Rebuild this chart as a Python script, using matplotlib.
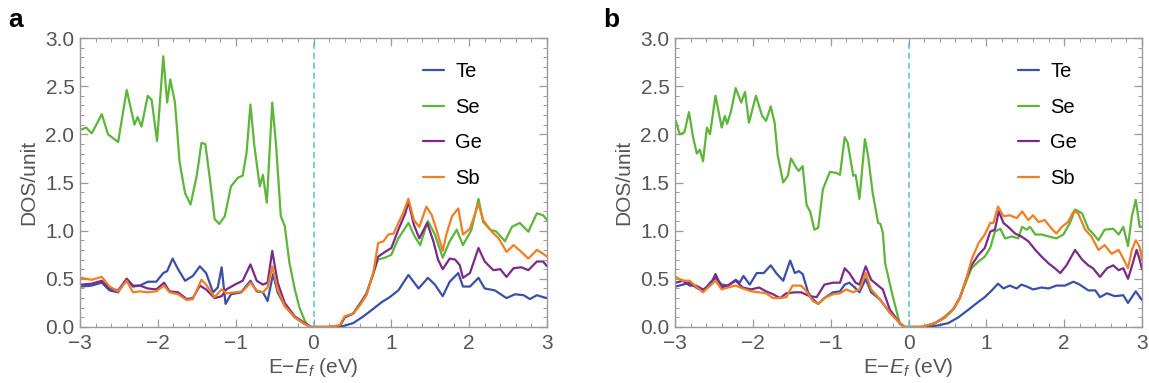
import matplotlib
matplotlib.use("Agg")
import matplotlib.pyplot as plt
from matplotlib.ticker import MultipleLocator

plt.rcParams["font.family"] = ["Liberation Sans", "DejaVu Sans"]
plt.rcParams["mathtext.fontset"] = "custom"
plt.rcParams["mathtext.rm"] = "Liberation Sans"
plt.rcParams["mathtext.it"] = "Liberation Sans:italic"

elements = ["Te", "Se", "Ge", "Sb"]
colors = ["#3b4ea8", "#5db53a", "#7a2a88", "#f07f22"]

# ---------------- panel a ----------------
te_a_x = [-2.98, -2.85, -2.72, -2.62, -2.51, -2.40, -2.32, -2.23, -2.13, -2.02, -1.93, -1.88,
          -1.81, -1.74, -1.65, -1.55, -1.46, -1.38, -1.29, -1.23, -1.18, -1.13, -1.06, -0.93,
          -0.81, -0.73, -0.65, -0.59, -0.52, -0.46, -0.37, -0.24, -0.11, -0.03, 0.2,
          0.38, 0.51, 0.64, 0.77, 0.88, 0.98, 1.09, 1.22, 1.35, 1.47, 1.56, 1.66, 1.75, 1.86,
          1.92, 2.01, 2.12, 2.20, 2.33, 2.48, 2.59, 2.70, 2.78, 2.87, 2.95, 3.00]
te_a_y = [0.42, 0.43, 0.46, 0.38, 0.36, 0.50, 0.43, 0.43, 0.47, 0.47, 0.56, 0.58,
          0.71, 0.60, 0.48, 0.53, 0.63, 0.56, 0.36, 0.41, 0.62, 0.24, 0.34, 0.36,
          0.48, 0.37, 0.36, 0.27, 0.55, 0.36, 0.22, 0.10, 0.03, 0.0, 0.0,
          0.01, 0.04, 0.11, 0.19, 0.26, 0.31, 0.38, 0.54, 0.40, 0.51, 0.44, 0.32, 0.47, 0.56,
          0.42, 0.42, 0.51, 0.40, 0.38, 0.30, 0.34, 0.33, 0.29, 0.33, 0.31, 0.30]

se_a_x = [-2.98, -2.92, -2.85, -2.79, -2.72, -2.64, -2.51, -2.40, -2.30, -2.26, -2.21, -2.13,
          -2.08, -2.01, -1.93, -1.88, -1.84, -1.78, -1.72, -1.65, -1.58, -1.50, -1.44, -1.39,
          -1.33, -1.27, -1.21, -1.14, -1.06, -0.97, -0.91, -0.86, -0.81, -0.76, -0.69, -0.65,
          -0.60, -0.53, -0.48, -0.42, -0.37, -0.31, -0.24, -0.18, -0.11, -0.05, 0.2,
          0.34, 0.40, 0.51, 0.60, 0.68, 0.77, 0.83, 0.92, 1.00, 1.09, 1.22, 1.30, 1.37, 1.47,
          1.56, 1.66, 1.75, 1.84, 1.92, 2.03, 2.12, 2.18, 2.27, 2.35, 2.46, 2.55, 2.65, 2.76,
          2.87, 2.95, 3.00]
se_a_y = [2.05, 2.07, 2.01, 2.10, 2.21, 2.00, 1.92, 2.46, 2.10, 2.18, 2.08, 2.40,
          2.36, 1.93, 2.81, 2.33, 2.57, 2.33, 1.71, 1.39, 1.27, 1.57, 1.91, 1.90,
          1.53, 1.12, 1.07, 1.15, 1.46, 1.55, 1.57, 1.81, 2.31, 1.88, 1.46, 1.58,
          1.29, 2.33, 1.88, 1.15, 1.05, 0.67, 0.39, 0.20, 0.06, 0.0, 0.0,
          0.01, 0.10, 0.14, 0.25, 0.35, 0.56, 0.70, 0.72, 0.75, 0.92, 1.08, 0.94, 0.85, 1.10,
          0.96, 0.72, 0.89, 1.01, 0.85, 1.01, 1.33, 1.09, 1.01, 0.99, 0.89, 1.04, 1.08, 0.99,
          1.18, 1.16, 1.11]

ge_a_x = [-2.98, -2.85, -2.72, -2.62, -2.51, -2.40, -2.32, -2.23, -2.13, -2.02, -1.92, -1.85,
          -1.74, -1.63, -1.55, -1.46, -1.38, -1.27, -1.18, -1.12, -1.01, -0.91, -0.81, -0.73,
          -0.65, -0.59, -0.53, -0.46, -0.37, -0.24, -0.11, -0.03, 0.2,
          0.34, 0.40, 0.51, 0.60, 0.68, 0.77, 0.83, 0.92, 1.00, 1.09, 1.18, 1.22, 1.29, 1.36,
          1.46, 1.54, 1.60, 1.66, 1.75, 1.82, 1.88, 1.92, 2.01, 2.12, 2.20, 2.31, 2.40, 2.48,
          2.57, 2.67, 2.76, 2.87, 2.95, 3.00]
ge_a_y = [0.44, 0.45, 0.48, 0.40, 0.38, 0.50, 0.42, 0.43, 0.40, 0.39, 0.46, 0.37,
          0.36, 0.29, 0.30, 0.43, 0.39, 0.30, 0.32, 0.39, 0.44, 0.48, 0.65, 0.48,
          0.44, 0.46, 0.79, 0.46, 0.25, 0.11, 0.04, 0.0, 0.0,
          0.01, 0.10, 0.14, 0.24, 0.34, 0.56, 0.73, 0.78, 0.82, 1.01, 1.18, 1.30, 1.06, 0.92,
          1.08, 0.89, 0.70, 0.60, 0.71, 0.70, 0.64, 0.51, 0.56, 0.82, 0.68, 0.59, 0.60, 0.52,
          0.61, 0.62, 0.59, 0.68, 0.68, 0.63]

sb_a_x = [-2.98, -2.85, -2.72, -2.62, -2.51, -2.40, -2.32, -2.23, -2.13, -2.02, -1.92, -1.85,
          -1.74, -1.63, -1.55, -1.44, -1.38, -1.27, -1.18, -1.12, -1.01, -0.91, -0.81, -0.73,
          -0.65, -0.59, -0.53, -0.46, -0.37, -0.24, -0.11, -0.03, 0.2,
          0.34, 0.40, 0.51, 0.60, 0.68, 0.77, 0.83, 0.90, 0.96, 1.03, 1.09, 1.15, 1.22, 1.29,
          1.36, 1.45, 1.52, 1.58, 1.66, 1.71, 1.78, 1.86, 1.92, 2.01, 2.12, 2.18, 2.29, 2.38,
          2.48, 2.57, 2.67, 2.76, 2.87, 2.95, 3.00]
sb_a_y = [0.51, 0.49, 0.52, 0.42, 0.37, 0.48, 0.36, 0.37, 0.36, 0.37, 0.43, 0.36,
          0.34, 0.28, 0.29, 0.49, 0.44, 0.31, 0.39, 0.35, 0.36, 0.37, 0.46, 0.38,
          0.36, 0.41, 0.63, 0.39, 0.22, 0.10, 0.03, 0.0, 0.0,
          0.02, 0.11, 0.14, 0.23, 0.33, 0.57, 0.87, 0.89, 0.96, 0.97, 1.08, 1.18, 1.33, 1.11,
          1.04, 1.25, 1.16, 1.01, 0.79, 0.97, 1.15, 1.23, 0.96, 1.02, 1.28, 1.11, 0.99, 0.92,
          0.78, 0.85, 0.78, 0.71, 0.80, 0.76, 0.73]

# ---------------- panel b ----------------
te_b_x = [-2.99, -2.90, -2.81, -2.73, -2.64, -2.55, -2.48, -2.40, -2.32, -2.22, -2.17, -2.12,
          -2.04, -1.95, -1.86, -1.77, -1.70, -1.61, -1.52, -1.46, -1.41, -1.36, -1.29, -1.23,
          -1.16, -1.08, -0.97, -0.88, -0.82, -0.76, -0.69, -0.63, -0.55, -0.48, -0.37, -0.24,
          -0.11, -0.05, 0.2,
          0.34, 0.51, 0.64, 0.77, 0.88, 0.98, 1.07, 1.15, 1.22, 1.30, 1.39, 1.45, 1.52, 1.60,
          1.71, 1.80, 1.90, 2.01, 2.12, 2.20, 2.31, 2.40, 2.46, 2.55, 2.65, 2.76, 2.82, 2.87,
          2.92, 3.00]
te_b_y = [0.42, 0.44, 0.46, 0.41, 0.37, 0.46, 0.51, 0.44, 0.43, 0.49, 0.46, 0.53,
          0.44, 0.56, 0.56, 0.64, 0.56, 0.48, 0.69, 0.56, 0.58, 0.55, 0.36, 0.29,
          0.24, 0.30, 0.36, 0.37, 0.44, 0.46, 0.41, 0.36, 0.50, 0.36, 0.29, 0.15,
          0.04, 0.0, 0.0,
          0.01, 0.04, 0.10, 0.18, 0.25, 0.31, 0.38, 0.45, 0.40, 0.43, 0.40, 0.44, 0.42, 0.39,
          0.41, 0.40, 0.43, 0.43, 0.47, 0.44, 0.38, 0.38, 0.31, 0.35, 0.32, 0.33, 0.25, 0.31,
          0.37, 0.28]

se_b_x = [-2.99, -2.94, -2.88, -2.82, -2.77, -2.72, -2.68, -2.64, -2.59, -2.55, -2.48, -2.40,
          -2.36, -2.33, -2.28, -2.22, -2.15, -2.10, -2.05, -1.96, -1.88, -1.83, -1.77, -1.72,
          -1.68, -1.61, -1.55, -1.51, -1.44, -1.41, -1.36, -1.31, -1.26, -1.21, -1.16, -1.10,
          -1.01, -0.93, -0.88, -0.82, -0.78, -0.71, -0.68, -0.63, -0.56, -0.52, -0.46, -0.39,
          -0.36, -0.33, -0.30, -0.20, -0.11, -0.05, 0.15,
          0.21, 0.34, 0.47, 0.58, 0.66, 0.75, 0.81, 0.90, 0.98, 1.05, 1.11, 1.18, 1.24, 1.33,
          1.41, 1.46, 1.52, 1.56, 1.63, 1.71, 1.80, 1.90, 1.99, 2.08, 2.14, 2.23, 2.31, 2.37,
          2.44, 2.52, 2.63, 2.70, 2.76, 2.82, 2.87, 2.92, 2.97, 3.00]
se_b_y = [2.14, 2.00, 2.02, 2.23, 1.98, 1.80, 1.84, 1.72, 2.07, 2.00, 2.40, 2.07,
          2.19, 2.11, 2.24, 2.48, 2.33, 2.44, 2.12, 2.40, 2.19, 2.14, 2.29, 2.12,
          1.78, 1.50, 1.57, 1.75, 1.65, 1.62, 1.67, 1.27, 1.19, 1.01, 1.03, 1.43,
          1.61, 1.60, 1.58, 1.97, 1.91, 1.57, 1.58, 1.33, 1.95, 1.78, 1.39, 1.08,
          1.07, 0.98, 0.66, 0.31, 0.03, 0.0, 0.0,
          0.01, 0.04, 0.11, 0.19, 0.31, 0.49, 0.61, 0.68, 0.73, 0.82, 0.99, 1.02, 0.92, 0.94,
          0.92, 1.04, 1.01, 1.04, 0.96, 0.96, 0.94, 0.92, 0.96, 1.09, 1.22, 1.18, 1.02, 0.97,
          0.90, 1.01, 1.02, 0.96, 1.04, 0.84, 1.15, 1.32, 1.04, 1.04]

ge_b_x = [-2.99, -2.90, -2.81, -2.73, -2.64, -2.55, -2.48, -2.40, -2.32, -2.22, -2.13, -2.02,
          -1.92, -1.83, -1.74, -1.65, -1.57, -1.46, -1.38, -1.27, -1.18, -1.08, -0.97, -0.88,
          -0.82, -0.76, -0.68, -0.63, -0.55, -0.48, -0.39, -0.33, -0.24, -0.11, -0.05, 0.2,
          0.34, 0.47, 0.58, 0.66, 0.75, 0.81, 0.90, 0.98, 1.05, 1.11, 1.16, 1.22, 1.28, 1.37,
          1.45, 1.54, 1.63, 1.71, 1.80, 1.88, 1.95, 2.03, 2.14, 2.23, 2.31, 2.37, 2.46, 2.55,
          2.63, 2.70, 2.76, 2.82, 2.87, 2.93, 2.97, 3.00]
ge_b_y = [0.46, 0.48, 0.43, 0.43, 0.39, 0.43, 0.55, 0.41, 0.43, 0.48, 0.41, 0.39,
          0.41, 0.37, 0.34, 0.30, 0.35, 0.36, 0.36, 0.32, 0.31, 0.44, 0.46, 0.46,
          0.61, 0.56, 0.46, 0.44, 0.63, 0.49, 0.43, 0.39, 0.18, 0.04, 0.0, 0.0,
          0.04, 0.10, 0.19, 0.30, 0.52, 0.64, 0.75, 0.82, 0.99, 1.01, 1.20, 1.08, 1.04, 0.97,
          0.94, 0.89, 0.80, 0.73, 0.66, 0.61, 0.56, 0.64, 0.80, 0.70, 0.64, 0.61, 0.52, 0.61,
          0.64, 0.59, 0.61, 0.50, 0.63, 0.80, 0.70, 0.60]

sb_b_x = [-2.99, -2.90, -2.81, -2.73, -2.64, -2.55, -2.48, -2.40, -2.32, -2.22, -2.13, -2.02,
          -1.92, -1.83, -1.74, -1.65, -1.57, -1.49, -1.38, -1.31, -1.23, -1.16, -1.08, -0.97,
          -0.88, -0.80, -0.71, -0.63, -0.55, -0.48, -0.37, -0.24, -0.11, -0.05, 0.15,
          0.21, 0.34, 0.47, 0.58, 0.66, 0.75, 0.81, 0.90, 0.98, 1.05, 1.09, 1.15, 1.22, 1.30,
          1.39, 1.46, 1.54, 1.60, 1.67, 1.75, 1.84, 1.90, 1.97, 2.05, 2.12, 2.18, 2.27, 2.35,
          2.44, 2.52, 2.61, 2.70, 2.76, 2.82, 2.87, 2.92, 2.97, 3.00]
sb_b_y = [0.52, 0.48, 0.48, 0.42, 0.36, 0.43, 0.48, 0.39, 0.41, 0.43, 0.40, 0.37,
          0.36, 0.35, 0.30, 0.30, 0.31, 0.43, 0.43, 0.37, 0.27, 0.24, 0.30, 0.34,
          0.35, 0.39, 0.36, 0.39, 0.56, 0.39, 0.29, 0.15, 0.04, 0.0, 0.0,
          0.01, 0.04, 0.10, 0.19, 0.30, 0.52, 0.70, 0.87, 0.96, 1.08, 1.08, 1.25, 1.15, 1.16,
          1.13, 1.20, 1.11, 1.16, 1.09, 1.11, 1.02, 0.97, 1.04, 1.09, 1.20, 1.18, 1.01, 0.94,
          0.80, 0.85, 0.76, 0.80, 0.71, 0.61, 0.80, 0.90, 0.83, 0.70]

panels = [
    ("a", [(te_a_x, te_a_y), (se_a_x, se_a_y), (ge_a_x, ge_a_y), (sb_a_x, sb_a_y)]),
    ("b", [(te_b_x, te_b_y), (se_b_x, se_b_y), (ge_b_x, ge_b_y), (sb_b_x, sb_b_y)]),
]

frame_color = "#9a9a9a"
label_color = "#555555"

fig = plt.figure(figsize=(11.49, 3.83), dpi=100)
lefts = [80 / 1149, 675 / 1149]
width = 467 / 1149
bottom = 1 - 327 / 383
height = 289 / 383

for (tag, series), left in zip(panels, lefts):
    ax = fig.add_axes([left, bottom, width, height])

    for (xs, ys), name, color in zip(series, elements, colors):
        ax.plot(xs, ys, color=color, lw=1.6, label=name,
                solid_joinstyle="round", solid_capstyle="round")

    ax.axvline(0, color="#5bbfd6", lw=1.1, ls=(0, (4, 2.5)))

    ax.set_xlim(-3, 3)
    ax.set_ylim(0, 3)
    ax.xaxis.set_major_locator(MultipleLocator(1))
    ax.xaxis.set_minor_locator(MultipleLocator(0.2))
    ax.yaxis.set_major_locator(MultipleLocator(0.5))
    ax.yaxis.set_minor_locator(MultipleLocator(0.1))
    ax.yaxis.set_major_formatter(plt.FormatStrFormatter("%.1f"))

    for spine in ax.spines.values():
        spine.set_color(frame_color)
        spine.set_linewidth(1.0)
    ax.tick_params(which="both", direction="in", top=True, right=True,
                   color=frame_color, labelcolor=label_color, labelsize=15)
    ax.tick_params(which="major", length=6, width=0.9)
    ax.tick_params(which="minor", length=3, width=0.7)
    ax.tick_params(axis="y", which="major", pad=4)
    ax.tick_params(axis="x", which="major", pad=5)

    ax.set_ylabel("DOS/unit", fontsize=15, color=label_color, labelpad=5)
    ax.set_xlabel("E\u2212$E_f$ (eV)", fontsize=15, color=label_color, labelpad=2)

    ax.legend(loc="upper left", bbox_to_anchor=(0.735, 0.917), frameon=False,
              fontsize=14.5, handlelength=1.05, handletextpad=0.55,
              labelspacing=0.83, borderpad=0, borderaxespad=0)

    fig.text(left - 72 / 1149, 1 - 27 / 383, tag, fontsize=19, fontweight="bold",
             ha="left", va="baseline")

fig.savefig("out.png", dpi=100)
